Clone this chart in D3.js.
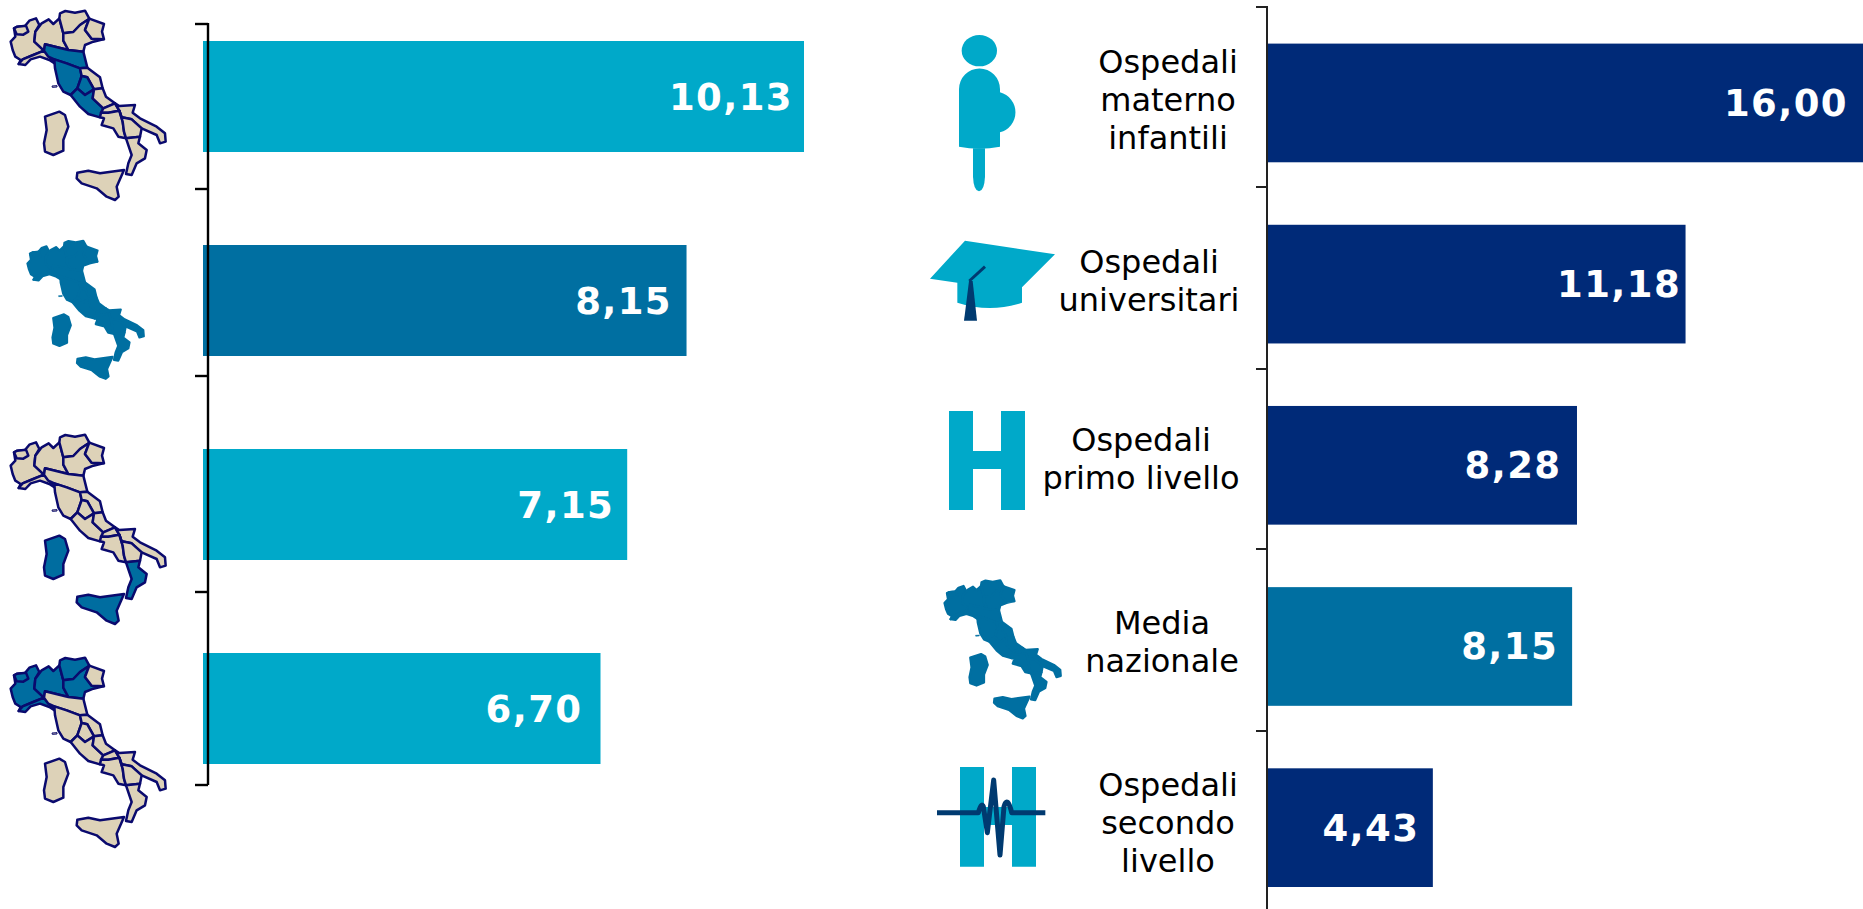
<!DOCTYPE html>
<html><head><meta charset="utf-8">
<script src="https://cdn.jsdelivr.net/npm/d3@7/dist/d3.min.js"></script>
<style>html,body{margin:0;padding:0;background:#fff;overflow:hidden}svg{display:block}text{font-family:"DejaVu Sans",sans-serif}</style>
</head><body><svg id="c" width="1863" height="909"></svg>
<script>
// ---- data
const macroAreas = ["Centro","Italia","Sud e Isole","Nord"];
const macroValues = [10.13,8.15,7.15,6.70];
const macroKinds = ["area","national","area","area"];
const hospitalTypes = ["materno","universitari","primo","nazionale","secondo"];
const hospitalValues = [16.00,11.18,8.28,8.15,4.43];
const hospitalKinds = ["type","type","type","national","type"];
const hospitalLabels = [["Ospedali","materno","infantili"],["Ospedali","universitari"],["Ospedali","primo livello"],["Media","nazionale"],["Ospedali","secondo","livello"]];

// ---- layout and style
const W=1863,H=909;
const colours={area:"#00A9C9",national:"#006FA1",type:"#002A78"};
const fmt=v=>v.toFixed(2).replace(".",",");
const svg=d3.select("#c");
const xL=d3.scaleLinear().domain([0,10.13]).range([203,804]);
const xR=d3.scaleLinear().domain([0,16]).range([1267,1866]);
const yL=d3.scaleBand().domain(macroAreas).range([41,764]).paddingInner(93/204);
const yR=d3.scaleBand().domain(hospitalTypes).range([43.6,887]).paddingInner(1-118.7/181.2);
const leftTicks=[24,189,376,592,785], rightTicks=[7,187,369,549,731];
const padL=[11,14.5,13,18], padR=[18,4.5,15.5,14,13.5];

function bars(cls,cats,vals,kinds,x,y,pads){
  const g=svg.append("g").attr("class",cls);
  g.selectAll("rect").data(cats).join("rect")
    .attr("x",x(0)).attr("y",d=>y(d)).attr("height",y.bandwidth())
    .attr("width",(d,i)=>x(vals[i])-x(0)).attr("fill",(d,i)=>colours[kinds[i]]);
  g.selectAll("text").data(cats).join("text")
    .attr("x",(d,i)=>x(vals[i])-pads[i]).attr("y",d=>y(d)+y.bandwidth()/2+13)
    .attr("text-anchor","end").attr("fill","#fff").attr("font-weight","bold")
    .attr("font-size",37).attr("letter-spacing",1.4).text((d,i)=>fmt(vals[i]));
}
bars("left",macroAreas,macroValues,macroKinds,xL,yL,padL);
bars("right",hospitalTypes,hospitalValues,hospitalKinds,xR,yR,padR);

function axis(xa,top,bottom,ticks,len,w,col){
  const g=svg.append("g").attr("stroke",col).attr("stroke-width",w);
  g.append("line").attr("x1",xa).attr("x2",xa).attr("y1",top).attr("y2",bottom);
  g.selectAll("line.t").data(ticks).join("line").attr("class","t")
    .attr("x1",xa-len).attr("x2",xa).attr("y1",d=>d).attr("y2",d=>d);
}
axis(208,23,785,leftTicks,13,2.4,"#000");
axis(1267,6,909,rightTicks,11,2,"#222");

// ---- category labels
const labelAnchors=[[1168,73],[1149,273],[1141,451],[1162,634],[1168,796]];
const lab=svg.append("g").attr("fill","#000").attr("font-size",32).attr("text-anchor","middle");
hospitalLabels.forEach((lines,i)=>{
  lines.forEach((t,j)=>lab.append("text").attr("x",labelAnchors[i][0]).attr("y",labelAnchors[i][1]+j*37.8).text(t));
});

// ---- Italy icon (outline units: 3 per px)
const regions={
 piemonte:[[42,85],[52,80],[75,78],[88,62],[108,55],[118,75],[106,95],[103,125],[132,152],[100,165],[68,178],[56,192],[62,180],[46,170],[38,150],[32,125],[46,110]],
 aosta:[[42,85],[52,80],[78,77],[85,95],[70,104],[50,103]],
 liguria:[[56,192],[68,178],[100,165],[132,152],[150,172],[163,190],[148,180],[120,170],[92,178],[76,195]],
 lombardia:[[106,95],[125,70],[146,58],[160,72],[178,55],[190,100],[190,122],[205,150],[135,133],[132,152],[103,125]],
 trentino:[[180,40],[196,33],[225,38],[255,32],[268,56],[240,75],[220,96],[190,100],[178,55]],
 veneto:[[268,56],[255,90],[275,116],[310,118],[280,125],[255,135],[250,155],[205,150],[190,122],[190,100],[220,96],[240,75]],
 friuli:[[268,56],[312,72],[306,95],[312,118],[275,116],[255,90]],
 emilia:[[135,133],[205,150],[250,155],[262,203],[240,205],[200,190],[163,178],[145,170],[132,152]],
 toscana:[[163,178],[200,190],[240,205],[245,228],[232,265],[212,285],[190,275],[175,250],[165,205]],
 marche:[[240,205],[262,203],[300,232],[308,265],[282,268],[262,232],[245,228]],
 umbria:[[245,228],[262,232],[282,268],[255,285],[232,265]],
 lazio:[[212,285],[232,265],[255,285],[282,268],[278,295],[310,325],[300,352],[265,342],[240,320]],
 abruzzo:[[282,268],[308,265],[318,290],[345,310],[310,325],[278,295]],
 molise:[[310,325],[345,310],[358,332],[325,338],[303,338]],
 puglia:[[345,310],[358,318],[405,315],[398,338],[420,355],[470,380],[495,400],[497,425],[480,430],[470,405],[425,385],[395,358],[365,352],[358,332]],
 campania:[[300,352],[303,338],[325,338],[358,332],[368,365],[372,395],[378,415],[355,410],[340,385],[305,375],[312,355]],
 basilicata:[[358,332],[365,352],[395,358],[425,385],[420,410],[378,415],[372,395],[368,365]],
 calabria:[[378,415],[420,410],[415,430],[440,450],[435,475],[410,490],[395,525],[378,522],[385,490],[395,465]],
 sicilia:[[232,518],[265,512],[300,520],[372,510],[350,560],[356,590],[345,600],[320,590],[290,565],[245,550],[230,535]],
 sardegna:[[135,350],[178,335],[195,345],[205,380],[190,420],[190,452],[160,465],[135,455],[132,430],[140,390]],
 elba:[[156,258],[171,257],[171,261],[157,262]]
};
const outline=d3.line().curve(d3.curveLinearClosed);
const beige="#DDD2B8",blue="#006DA0",navyEdge="#0A0A6E";
function regionMap(tx,ty,hot){
  const g=svg.append("g").attr("transform",`translate(${tx},${ty}) scale(${1/3})`);
  Object.keys(regions).forEach(k=>g.append("path").attr("d",outline(regions[k]))
    .attr("fill",hot.includes(k)?blue:beige).attr("stroke",navyEdge).attr("stroke-width",k==="elba"?3:7.5).attr("stroke-linejoin","round"));
}
function plainMap(tx,ty){
  const g=svg.append("g").attr("transform",`translate(${tx},${ty}) scale(0.25,0.243)`);
  Object.keys(regions).forEach(k=>g.append("path").attr("d",outline(regions[k]))
    .attr("fill","#006FA1").attr("stroke","#006FA1").attr("stroke-width",k==="elba"?2:9).attr("stroke-linejoin","round"));
}
regionMap(0,0,["emilia","toscana","umbria","lazio"]);
plainMap(19.5,233);
regionMap(0,424,["sardegna","calabria","sicilia"]);
regionMap(0,647,["piemonte","aosta","liguria","lombardia","trentino","veneto"]);
plainMap(936.5,572.6);

// ---- hospital icons (zoom units: 3 per px)
const cyan="#00A9C9",deep="#003A70";
const ic=svg.append("g").attr("transform","translate(900,0) scale(0.33333)").attr("fill",cyan);
ic.append("ellipse").attr("cx",238).attr("cy",152).attr("rx",53).attr("ry",47);
ic.append("path").attr("d","M177 268 A61 62 0 0 1 300 268 L300 277 A62 62 0 0 1 300 397 L300 440 Q238 452 177 440 Z");
ic.append("path").attr("d","M219 445 L255 445 L255 530 Q253 572 237 574 Q221 572 219 530 Z");
ic.append("path").attr("d","M195 722 L465 763 L366 862 L366 908 Q270 940 172 908 L172 848 L90 836 Z");
ic.append("path").attr("d","M207 843 L218 843 L231 962 L192 962 Z").attr("fill",deep);
ic.append("path").attr("d","M208 843 L255 800").attr("stroke",deep).attr("stroke-width",9).attr("fill","none");
ic.append("path").attr("d","M147 1233 H219 V1353 H303 V1233 H375 V1530 H303 V1407 H219 V1530 H147 Z");
ic.append("path").attr("d","M180 2301 H252 V2421 H336 V2301 H408 V2600 H336 V2475 H252 V2600 H180 Z");
ic.append("path").attr("d","M111 2438 H235 Q245 2405 250 2420 L262 2498 L281 2340 L300 2565 L312 2420 Q322 2385 335 2438 H436")
  .attr("fill","none").attr("stroke",deep).attr("stroke-width",15).attr("stroke-linejoin","round");
</script></body></html>
